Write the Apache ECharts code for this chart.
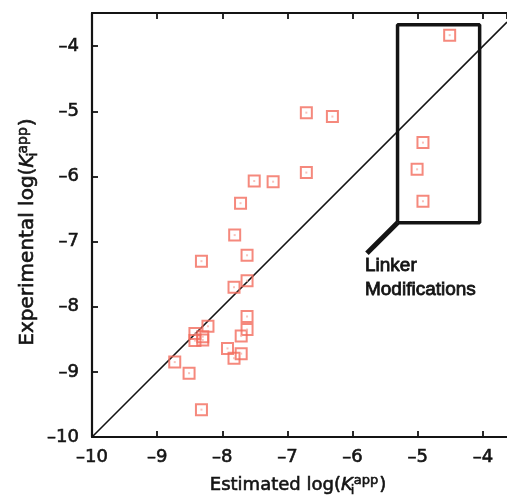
<!DOCTYPE html>
<html lang="en">
<head>
  <meta charset="UTF-8">
  <title>Estimated vs experimental log(Ki app)</title>
  <script src="https://cdn.jsdelivr.net/npm/echarts@6/dist/echarts.min.js"></script>
  <style>html,body{margin:0;padding:0;background:#fff}</style>
</head>
<body>
  <div id="main" style="width: 507px;height:495px"></div>
  <script>
    // estimated / experimental log(Ki app)
    var estimated = [-4.51, -4.92, -5.01, -4.92, -6.71, -6.31, -6.71, -7.22, -7.51, -7.72,
      -7.81, -7.62, -8.32, -7.62, -7.82, -7.62, -7.62, -7.71, -8.22, -8.42,
      -8.30, -8.42, -8.30, -7.92, -7.71, -7.82, -8.73, -8.51, -8.32];
    var experimental = [-3.83, -5.48, -5.89, -6.38, -5.02, -5.08, -5.94, -6.08, -6.07, -6.41,
      -6.90, -7.21, -7.30, -7.60, -7.70, -8.15, -8.35, -8.45, -8.30, -8.41,
      -8.46, -8.52, -8.51, -8.64, -8.72, -8.79, -8.85, -9.02, -9.58];
    var tickValues = [-10, -9, -8, -7, -6, -5, -4];
    var axisMin = -10, xMax = -3.63, yMax = -3.49;
    // "Linker Modifications" box and its pointer
    var boxX = [-5.31, -4.05];
    var boxY = [-6.71, -3.67];
    var pointerEnd = [-5.78, -7.18];
    var annotation = 'Linker\nModifications';
    var annotationAt = [-5.81, -7.18];

    var points = estimated.map(function (x, i) { return [x, experimental[i]]; });
    var box = [[boxX[0], boxY[0]], [boxX[1], boxY[0]], [boxX[1], boxY[1]], [boxX[0], boxY[1]], [boxX[0], boxY[0]]];

    var ink = '#141414';
    var red = '#f26c5c';
    var heavy = 0.6; // thin stroke on text to match the heavier print

    // canvas to measure text for the sub/superscript titles
    var ctx = document.createElement('canvas').getContext('2d');
    function textW(s, font) { ctx.font = font; return ctx.measureText(s).width; }

    function titleParts(prefix, size) {
      var fam = '"DejaVu Sans"';
      var base = size + 'px ' + fam;
      var ital = 'italic ' + size + 'px ' + fam;
      var sm = Math.round(size * 0.72);
      var small = sm + 'px ' + fam;
      var els = [];
      function piece(txt, font, fs, x, baseline) {
        els.push({
          type: 'text',
          style: {
            text: txt, font: font, fill: ink, stroke: ink, lineWidth: heavy,
            x: x, y: baseline - 0.3 * fs,
            textAlign: 'left', align: 'left', textVerticalAlign: 'middle', verticalAlign: 'middle'
          }
        });
      }
      var x = 0;
      piece(prefix + ' log(', base, size, x, 0);
      x += textW(prefix + ' log(', base);
      piece('K', ital, size, x, 0);
      var kw = textW('K', ital);
      piece('i', small, sm, x + kw - 2, size * 0.17);
      piece('app', small, sm, x + kw + 1, -size * 0.34);
      x += kw + 1 + textW('app', small) + 1;
      piece(')', base, size, x, 0);
      x += textW(')', base);
      return { children: els, width: x };
    }

    var xTitle = titleParts('Estimated', 18);
    var yTitle = titleParts('Experimental', 20);

    var myChart = echarts.init(document.getElementById('main'));

    function tickLabel(v) {
      return tickValues.indexOf(v) >= 0 ? String(v).replace('-', '\u2013') : '';
    }

    var axisFont = {
      fontFamily: 'DejaVu Sans', fontSize: 18, color: ink,
      textBorderColor: ink, textBorderWidth: heavy
    };

    var option = {
      animation: false,
      grid: { left: 92, right: 0, top: 13, bottom: 58 },
      xAxis: [{
        type: 'value', min: axisMin, max: xMax, interval: 1,
        axisLine: { lineStyle: { color: ink, width: 2.2 } },
        axisTick: { inside: true, length: 6, lineStyle: { color: ink, width: 1.8 } },
        axisLabel: Object.assign({ margin: 11, formatter: tickLabel, showMaxLabel: false }, axisFont),
        splitLine: { show: false }
      }, {
        type: 'value', position: 'top', min: axisMin, max: xMax, interval: 1,
        axisLine: { lineStyle: { color: ink, width: 2.2 } },
        axisTick: { inside: true, length: 6, lineStyle: { color: ink, width: 1.8 } },
        axisLabel: { show: false },
        splitLine: { show: false }
      }],
      yAxis: {
        type: 'value', min: axisMin, max: yMax, interval: 1,
        axisLine: { lineStyle: { color: ink, width: 2.2 } },
        axisTick: { inside: true, length: 6, lineStyle: { color: ink, width: 1.8 } },
        axisLabel: Object.assign({ margin: 13, formatter: tickLabel, showMaxLabel: false }, axisFont),
        splitLine: { show: false }
      },
      series: [
        {
          // y = x
          type: 'line', data: [[axisMin, axisMin], [xMax, xMax]],
          showSymbol: false, silent: true,
          lineStyle: { color: ink, width: 1.6 }, z: 1
        },
        {
          type: 'line', data: box, showSymbol: false, silent: true,
          lineStyle: { color: ink, width: 3.5 }, z: 2
        },
        {
          type: 'line', data: [[boxX[0], boxY[0]], pointerEnd], showSymbol: false, silent: true,
          lineStyle: { color: ink, width: 5 }, z: 2
        },
        {
          type: 'scatter', data: points, symbol: 'rect', symbolSize: 11,
          itemStyle: { color: 'rgba(255,255,255,0)', borderColor: red, borderWidth: 2 }, z: 3
        },
        {
          type: 'scatter', data: points, symbol: 'rect', symbolSize: 2, silent: true,
          itemStyle: { color: '#f7b3aa' }, z: 3
        }
      ]
    };
    myChart.setOption(option);

    var at = myChart.convertToPixel({ gridIndex: 0 }, annotationAt);
    myChart.setOption({
      graphic: [
        {
          type: 'text', x: at[0], y: at[1],
          style: {
            text: annotation, font: '19px "Liberation Sans"', lineHeight: 24,
            fill: ink, stroke: ink, lineWidth: 0.8,
            textAlign: 'left', align: 'left', textVerticalAlign: 'top', verticalAlign: 'top'
          }
        },
        { type: 'group', x: 298 - xTitle.width / 2, y: 491, children: xTitle.children },
        { type: 'group', x: 34, y: 232 + yTitle.width / 2, rotation: Math.PI / 2, children: yTitle.children }
      ]
    });
  </script>
</body>
</html>
